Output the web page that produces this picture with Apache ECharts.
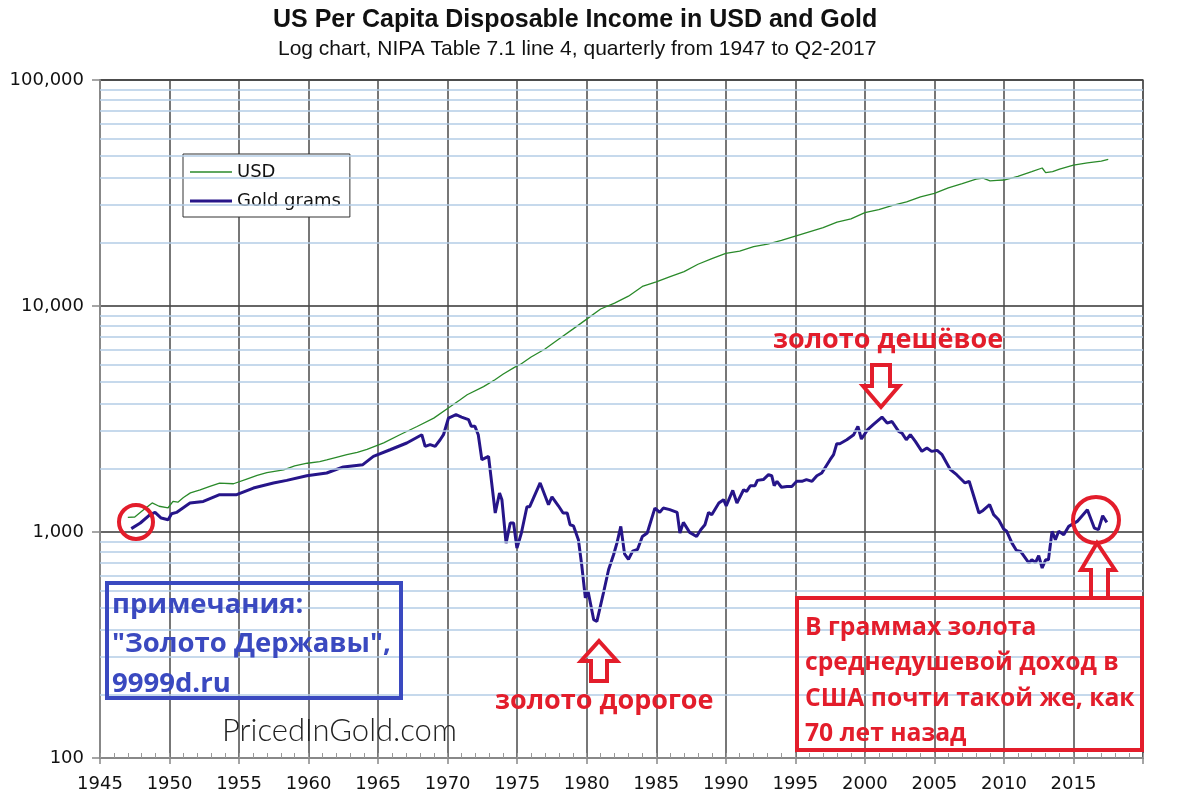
<!DOCTYPE html>
<html><head><meta charset="utf-8">
<script src="https://cdn.jsdelivr.net/npm/echarts@6/dist/echarts.min.js"></script>
<style>html,body{margin:0;padding:0;background:#fff}#c{width:1182px;height:802px}</style>
</head><body><div id="c"></div>
<script>
// ---- data ----
const usdYears = [1947.0,1947.5,1948.0,1948.75,1949.25,1949.9,1950.25,1950.6,1951.0,1951.5,1952.2,1952.9,1953.6,1954.6,1955.5,1956.3,1957.0,1958.2,1959.0,1959.9,1960.8,1961.3,1962.0,1962.75,1963.5,1964.2,1965.4,1966.6,1967.8,1969.0,1970.2,1970.9,1971.4,1972.58,1973.4,1974.0,1974.8,1975.3,1976.0,1977.0,1978.0,1979.0,1980.0,1981.0,1982.0,1983.0,1984.0,1985.0,1986.0,1987.0,1988.0,1989.0,1990.0,1991.0,1992.0,1993.0,1994.0,1995.0,1996.0,1997.0,1998.0,1999.0,2000.0,2001.0,2002.0,2003.0,2004.0,2005.0,2006.0,2007.0,2008.0,2008.5,2009.0,2009.5,2010.0,2011.0,2012.0,2012.75,2013.0,2013.5,2014.0,2015.0,2016.0,2017.0,2017.5];
const usdValues = [1160,1165,1235,1345,1300,1280,1365,1355,1420,1490,1535,1590,1645,1635,1710,1780,1830,1885,1960,2015,2050,2085,2140,2200,2250,2320,2480,2700,2930,3190,3590,3850,4050,4400,4720,5000,5350,5550,5950,6450,7150,7900,8750,9700,10300,11050,12200,12800,13500,14200,15300,16200,17100,17500,18300,18800,19500,20400,21300,22200,23500,24300,25900,26700,27900,28900,30400,31500,33300,34800,36400,36800,35800,36000,36100,37500,39300,40800,38900,39300,40300,42000,43000,43800,44500];
const goldYears = [1947.25,1947.9,1948.6,1948.96,1949.4,1949.9,1950.15,1950.5,1951.47,1952.43,1953.6,1954.83,1956.03,1957.47,1958.43,1959.87,1961.3,1962.5,1963.9,1964.66,1965.86,1967.06,1968.14,1968.38,1968.74,1969.1,1969.46,1969.7,1970.06,1970.6,1971.0,1971.5,1971.7,1971.96,1972.2,1972.46,1972.94,1973.42,1973.73,1973.9,1974.2,1974.5,1974.74,1974.98,1975.3,1975.7,1975.9,1976.65,1977.25,1977.5,1977.96,1978.3,1978.6,1978.8,1979.05,1979.4,1979.65,1979.9,1980.1,1980.5,1980.73,1981.2,1981.57,1981.93,1982.17,1982.45,1982.72,1983.0,1983.3,1983.65,1984.0,1984.35,1984.9,1985.25,1985.5,1985.97,1986.5,1986.7,1986.95,1987.4,1987.9,1988.2,1988.5,1988.76,1988.99,1989.5,1989.84,1990.03,1990.5,1990.8,1991.28,1991.5,1991.76,1992.1,1992.27,1992.7,1993.07,1993.3,1993.48,1993.68,1994.0,1994.4,1994.75,1995.1,1995.47,1995.8,1996.2,1996.55,1996.9,1997.5,1997.75,1997.98,1998.2,1998.7,1999.2,1999.5,1999.75,2000.2,2000.6,2001.23,2001.6,2001.95,2002.43,2002.67,2002.98,2003.27,2003.63,2004.1,2004.46,2004.8,2005.2,2005.55,2006.15,2006.6,2007.2,2007.5,2007.8,2008.2,2008.5,2008.97,2009.26,2009.62,2009.98,2010.2,2010.58,2010.9,2011.2,2011.8,2012.0,2012.27,2012.5,2012.75,2013.0,2013.2,2013.46,2013.7,2013.94,2014.3,2014.66,2015.27,2016.0,2016.5,2016.8,2017.1,2017.4];
const goldValues = [1035,1096,1193,1221,1153,1133,1205,1221,1343,1366,1462,1462,1565,1648,1692,1774,1824,1940,1986,2160,2312,2476,2695,2392,2434,2392,2559,2695,3194,3304,3226,3141,2934,2934,2695,2089,2160,1213,1488,1390,893,1096,1096,849,990,1294,1294,1648,1321,1429,1306,1213,1213,1077,1064,925,705,511,545,409,402,537,681,793,893,1059,800,757,823,837,955,990,1276,1221,1276,1256,1221,990,1103,996,955,1024,1077,1221,1193,1343,1390,1306,1527,1343,1538,1513,1603,1603,1692,1706,1793,1774,1603,1676,1578,1590,1590,1676,1676,1706,1676,1774,1824,2089,2198,2459,2459,2559,2695,2934,2579,2836,2985,3226,3034,3084,2786,2740,2559,2695,2516,2274,2354,2274,2297,2198,1887,1793,1648,1676,1462,1213,1246,1321,1193,1133,1031,1007,893,829,820,729,754,733,785,693,754,754,1007,925,1007,973,1059,1114,1255,1041,1024,1180,1103];
const xTickLabels = ['1945','1950','1955','1960','1965','1970','1975','1980','1985','1990','1995','2000','2005','2010','2015'];
const yTickLabels = ['100','1,000','10,000','100,000'];
const minorGridValues = [190,280,370,460,550,640,730,820,910,1900,2800,3700,4600,5500,6400,7300,8200,9100,19000,28000,37000,46000,55000,64000,73000,82000,91000];

const RED = '#e31d2b', BLUE = '#3a49c0', GREEN = '#2a8a2a', INDIGO = '#261589';
const chart = echarts.init(document.getElementById('c'), null, {renderer: 'canvas'});
const pairs = (xs, ys) => xs.map((x, i) => [x, ys[i]]);

chart.setOption({
  backgroundColor: '#fff',
  animation: false,
  title: [
    {text: 'US Per Capita Disposable Income in USD and Gold', left: 268, top: 3,
     textStyle: {fontFamily: 'Liberation Sans', fontWeight: 'bold', fontSize: 25, color: '#111'}},
    {text: 'Log chart, NIPA Table 7.1 line 4, quarterly from 1947 to Q2-2017', left: 273, top: 34,
     textStyle: {fontFamily: 'Liberation Sans', fontWeight: 'normal', fontSize: 21, color: '#111'}}
  ],
  grid: {left: 100, right: 39, top: 80, bottom: 44, show: true, borderColor: '#777', borderWidth: 1.5, backgroundColor: 'transparent'},
  legend: {
    data: [
      {name: 'USD', icon: 'path://M0,0h42v1.3h-42z'},
      {name: 'Gold grams', icon: 'path://M0,0h42v3h-42z'}
    ],
    orient: 'vertical', left: 183, top: 154,
    backgroundColor: '#fff', borderColor: '#333', borderWidth: 1, borderRadius: 0,
    padding: [9, 9, 7, 7], itemWidth: 42, itemHeight: 14, itemGap: 11,
    textStyle: {fontFamily: 'DejaVu Sans', fontSize: 18, color: '#111'}
  },
  xAxis: [
    {type: 'value', min: 1945, max: 2020, interval: 5,
     axisLine: {show: true, lineStyle: {color: '#888', width: 2}},
     axisTick: {show: true, length: 6, lineStyle: {color: '#888', width: 1.5}},
     axisLabel: {margin: 17, fontFamily: 'DejaVu Sans', fontSize: 18, color: '#111',
       formatter: v => { const s = String(Math.round(v)); return xTickLabels.indexOf(s) >= 0 ? s : ''; }},
     splitLine: {show: true, lineStyle: {color: '#4a4a4a', width: 1.5}}},
    {type: 'value', min: 1945, max: 2020, interval: 1, position: 'bottom',
     axisLine: {show: false}, axisLabel: {show: false}, splitLine: {show: false},
     axisTick: {show: true, inside: true, length: 5, lineStyle: {color: '#999', width: 1}}}
  ],
  yAxis: {
    type: 'log', logBase: 10, min: 100, max: 100000,
    axisLine: {show: true, lineStyle: {color: '#888', width: 2}},
    axisTick: {show: true, length: 8, lineStyle: {color: '#888', width: 1.5}},
    axisLabel: {margin: 16, fontFamily: 'DejaVu Sans', fontSize: 18, color: '#111',
      formatter: v => { const s = Math.round(v).toLocaleString('en-US'); return yTickLabels.indexOf(s) >= 0 ? s : ''; }},
    splitLine: {show: true, lineStyle: {color: '#333', width: 1.5}}
  },
  series: [
    {name: 'minor', type: 'line', data: [], z: 1, silent: true,
     markLine: {silent: true, symbol: 'none', animation: false, label: {show: false},
       lineStyle: {color: '#b3cde6', width: 1.5, type: 'solid'},
       data: minorGridValues.map(v => ({yAxis: v}))}},
    {name: 'USD', type: 'line', data: pairs(usdYears, usdValues), symbol: 'none', showSymbol: false, z: 3,
     lineStyle: {color: GREEN, width: 1.3}, itemStyle: {color: GREEN}},
    {name: 'Gold grams', type: 'line', data: pairs(goldYears, goldValues), symbol: 'none', showSymbol: false, z: 4,
     lineStyle: {color: INDIGO, width: 3}, itemStyle: {color: INDIGO}}
  ],
  graphic: [
    {type: 'text', left: 773, top: 327, z: 100, style: {text: 'золото дешёвое', fill: RED, font: 'bold 27px "Open Sans"'}},
    {type: 'text', left: 495, top: 688, z: 100, style: {text: 'золото дорогое', fill: RED, font: 'bold 27px "Open Sans"'}},
    {type: 'polygon', z: 100, shape: {points: [[872,365],[890,365],[890,386],[899,386],[881,407],[863,386],[872,386]]},
     style: {fill: 'transparent', stroke: RED, lineWidth: 4, lineJoin: 'miter'}},
    {type: 'polygon', z: 100, shape: {points: [[599,641],[617,661],[607,661],[607,681],[591,681],[591,661],[581,661]]},
     style: {fill: 'transparent', stroke: RED, lineWidth: 4}},
    {type: 'polygon', z: 100, shape: {points: [[1097,543],[1115,570],[1108,570],[1108,598],[1091,598],[1091,570],[1081,570]]},
     style: {fill: 'transparent', stroke: RED, lineWidth: 4}},
    {type: 'circle', z: 100, shape: {cx: 136, cy: 522, r: 17}, style: {fill: 'transparent', stroke: RED, lineWidth: 4}},
    {type: 'circle', z: 100, shape: {cx: 1096, cy: 520, r: 23}, style: {fill: 'transparent', stroke: RED, lineWidth: 4}},
    {type: 'rect', z: 100, shape: {x: 107, y: 583, width: 294, height: 115}, style: {fill: 'transparent', stroke: BLUE, lineWidth: 4}},
    {type: 'text', left: 112, top: 585, z: 100, style: {text: 'примечания:\n"Золото Державы",\n9999d.ru', fill: BLUE, font: 'bold 27.5px "Open Sans"', lineHeight: 39.5}},
    {type: 'rect', z: 100, shape: {x: 797, y: 598, width: 345, height: 152}, style: {fill: 'transparent', stroke: RED, lineWidth: 4}},
    {type: 'text', left: 805, top: 610, z: 100, style: {text: 'В граммах золота\nсреднедушевой доход в\nСША почти такой же, как\n70 лет назад', fill: RED, font: 'bold 24.7px "Open Sans"', lineHeight: 35.5}},
    {type: 'text', left: 222, top: 715, z: 100, style: {text: 'PricedInGold.com', fill: '#222', font: '300 31px "Lato"'}}
  ]
});
</script></body></html>
